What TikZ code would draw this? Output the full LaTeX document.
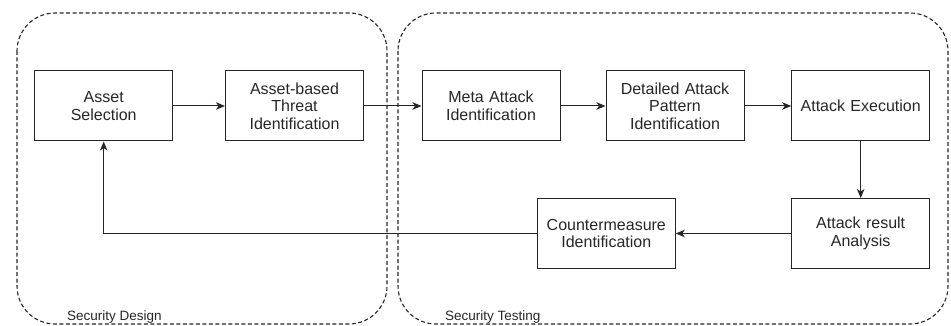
\documentclass[tikz,border=0pt]{standalone}
\usepackage{fontspec}
\setmainfont{Liberation Sans}
\usetikzlibrary{arrows.meta}
\definecolor{ink}{gray}{0.15}
\begin{document}
\begin{tikzpicture}[x=1pt,y=-1pt,
  proc/.style={draw=ink, text=ink, line width=1pt, minimum width=138pt, minimum height=70pt,
    align=center, text width=132pt, inner sep=2pt, font=\fontsize{16}{17.7}\selectfont},
  flow/.style={draw=ink, line width=1pt, -{Stealth[length=9pt,width=7.5pt,inset=2.5pt]}},
  group/.style={draw=ink, line width=1.1pt, dash pattern=on 4pt off 2.5pt, rounded corners=38pt},
  grouplabel/.style={text=ink, anchor=base west, inner sep=0pt, font=\fontsize{13.5}{15}\selectfont}]
\useasboundingbox (0,0) rectangle (951,326);

% phase containers
\draw[group] (17,13) rectangle (387,324);
\draw[group] (398,13) rectangle (948,324);
\node[grouplabel] (lblDesign) at (67,320.5) {Security Design};
\node[grouplabel] (lblTesting) at (445,320.5) {Security Testing};

% process steps
\node[proc] (as) at (103.7,106) {Asset\\Selection};
\node[proc] (ab) at (294.5,106) {Asset-based\\Threat\\Identification};
\node[proc] (ma) at (491,106) {Meta Attack\\Identification};
\node[proc] (dp) at (675,106) {Detailed Attack\\Pattern\\Identification};
\node[proc] (ae) at (860.7,106) {Attack Execution};
\node[proc] (ar) at (860.7,233.5) {Attack result\\Analysis};
\node[proc] (cm) at (606.3,233.5) {Countermeasure\\Identification};

% flow
\draw[flow] (as) -- (ab);
\draw[flow] (ab) -- (ma);
\draw[flow] (ma) -- (dp);
\draw[flow] (dp) -- (ae);
\draw[flow] (ae) -- (ar);
\draw[flow] (ar) -- (cm);
\draw[flow] (cm.west) -| (as.south);
\end{tikzpicture}
\end{document}
